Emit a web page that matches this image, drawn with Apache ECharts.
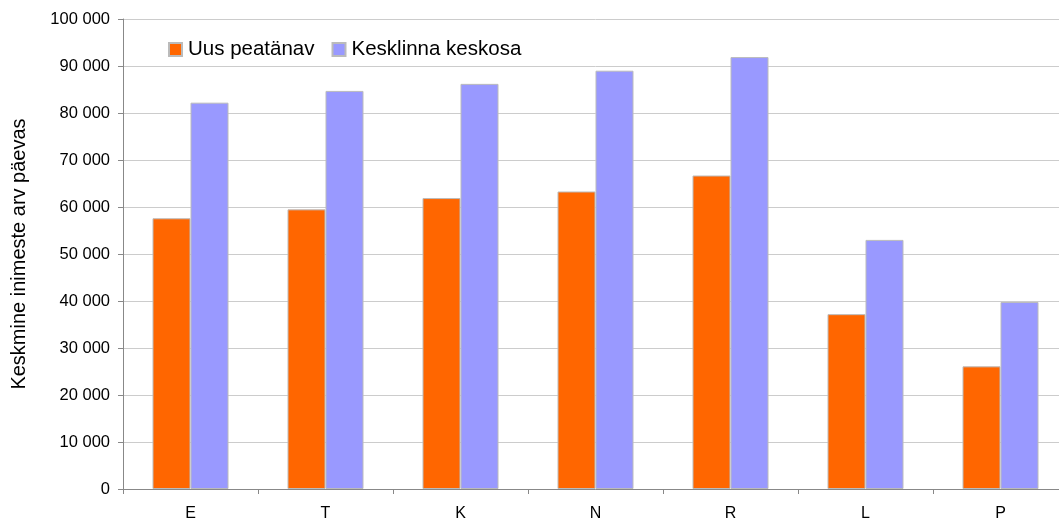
<!DOCTYPE html>
<html><head><meta charset="utf-8">
<script src="https://cdn.jsdelivr.net/npm/echarts@6/dist/echarts.min.js"></script>
<style>html,body{margin:0;padding:0;background:#fff;overflow:hidden;width:1059px;height:522px}#c{width:1068px;height:522px}</style>
</head><body><div id="c"></div>
<script>
const categories = ['E','T','K','N','R','L','P'];
const uusPeatanav = [57600, 59500, 61900, 63300, 66700, 37200, 26100];
const kesklinnaKeskosa = [82200, 84700, 86200, 89000, 91900, 53000, 39800];
const seriesNames = ['Uus peatänav', 'Kesklinna keskosa'];
const yAxisTitle = 'Keskmine inimeste arv päevas';

const chart = echarts.init(document.getElementById('c'), null, {renderer:'canvas'});
const fmt = v => String(v).replace(/\B(?=(\d{3})+(?!\d))/g, ' ');
const ff = 'Liberation Sans, Arial, sans-serif';
chart.setOption({
  animation:false,
  textStyle:{fontFamily:ff},
  grid:{left:123, right:0, top:19, bottom:31},
  legend:{left:168, top:39, padding:0, icon:'rect', itemWidth:13, itemHeight:13, itemGap:17,
    textStyle:{fontSize:20.5, color:'#000', fontFamily:ff, padding:[0,0,0,1]},
    data:seriesNames},
  xAxis:{type:'category', data:categories,
    axisLine:{lineStyle:{color:'#888', width:1}},
    axisTick:{show:true, length:5, lineStyle:{color:'#888'}},
    axisLabel:{fontSize:16, color:'#000', margin:17}},
  yAxis:{type:'value', min:0, max:100000, interval:10000,
    name:yAxisTitle, nameLocation:'middle', nameGap:94,
    nameTextStyle:{fontSize:20, color:'#000'},
    axisLine:{show:true, lineStyle:{color:'#888'}},
    axisTick:{show:true, length:5, lineStyle:{color:'#888'}},
    axisLabel:{fontSize:16.5, color:'#000', margin:13, formatter:fmt},
    splitLine:{lineStyle:{color:'#ccc', width:1}}},
  series:[
    {name:seriesNames[0], type:'bar', data:uusPeatanav, barWidth:38, barGap:'0%',
     itemStyle:{color:'#ff6600', borderColor:'#bbbbbb', borderWidth:1}},
    {name:seriesNames[1], type:'bar', data:kesklinnaKeskosa, barWidth:38, barGap:'0%',
     itemStyle:{color:'#9999ff', borderColor:'#bbbbbb', borderWidth:1}}
  ]
});
</script></body></html>
